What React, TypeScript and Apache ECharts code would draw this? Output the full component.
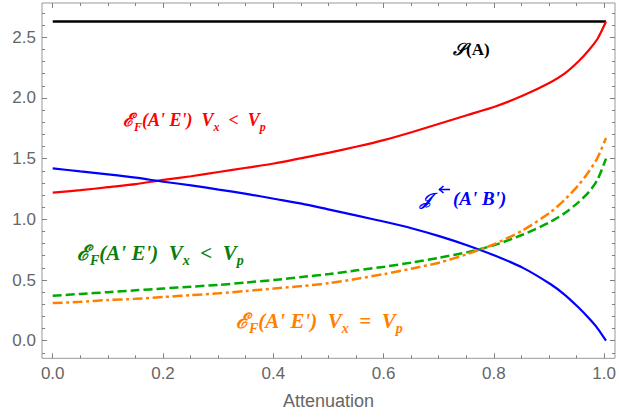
import React, { useEffect, useRef } from "react";
import * as echarts from "echarts";

// ---- data ----
const attenuation = [0, 0.05, 0.1, 0.15, 0.2, 0.25, 0.3, 0.35, 0.4, 0.45, 0.5, 0.55, 0.6, 0.65, 0.7, 0.75, 0.8, 0.85, 0.9, 0.925, 0.95, 0.97, 0.985, 1.0];
const entropyX = [0, 1];
const entropyA = [2.63, 2.63];
const efRed = [1.22, 1.24, 1.265, 1.29, 1.325, 1.355, 1.39, 1.425, 1.46, 1.505, 1.55, 1.6, 1.655, 1.72, 1.79, 1.86, 1.93, 2.02, 2.13, 2.2, 2.3, 2.4, 2.49, 2.63];
const coherentBlue = [1.42, 1.395, 1.37, 1.343, 1.31, 1.28, 1.245, 1.21, 1.17, 1.13, 1.08, 1.03, 0.98, 0.925, 0.86, 0.785, 0.7, 0.6, 0.465, 0.38, 0.275, 0.18, 0.1, 0.0];
const efGreen = [0.37, 0.385, 0.4, 0.415, 0.43, 0.445, 0.46, 0.48, 0.5, 0.525, 0.55, 0.58, 0.61, 0.645, 0.685, 0.73, 0.79, 0.875, 0.98, 1.05, 1.14, 1.23, 1.33, 1.5];
const efOrange = [0.31, 0.32, 0.335, 0.345, 0.36, 0.375, 0.39, 0.41, 0.43, 0.45, 0.475, 0.51, 0.55, 0.595, 0.645, 0.715, 0.8, 0.91, 1.06, 1.16, 1.28, 1.4, 1.51, 1.67];

const xMajorInterval = 0.2;
const yMajorInterval = 0.5;
const yMinorInterval = 0.1;

// ---- layout (pixels) ----
const W = 619, H = 418;
const frameL = 42, frameR = 615, frameT = 3, frameB = 358.3;
const dataL = 52.7, dataR = 606, dataT = 37.3, dataB = 340.7; // x:0..1, y:0..2.5
const pxPerY = (dataB - dataT) / 2.5;

const frameColor = "#999999";
const tickColor = "#808080";
const labelColor = "#666666";

const zip = (xs: number[], ys: number[]) => xs.map((x, i) => [x, ys[i]]);

function mathRich(color: string, size: number) {
  const base = {
    fontFamily: "'Liberation Serif','DejaVu Serif',serif",
    fontStyle: "italic",
    fontWeight: "bold",
    fill: color,
    color: color,
  };
  const sub = Math.round(size * 0.66);
  return {
    n: { ...base, fontSize: size, lineHeight: size + 8, verticalAlign: "middle" },
    u: { ...base, fontStyle: "normal", fontSize: size, lineHeight: size + 8, verticalAlign: "middle" },
    s: { ...base, fontSize: sub, lineHeight: sub, verticalAlign: "bottom" },
  };
}

function mathText(x: number, y: number, text: string, color: string, size: number) {
  return {
    type: "text",
    x,
    y,
    z: 100,
    style: {
      text,
      rich: mathRich(color, size),
      align: "left",
      verticalAlign: "middle",
    },
  };
}

const tickStyle = { color: tickColor, width: 1 };
const hidden = { axisLine: { show: false }, splitLine: { show: false }, axisLabel: { show: false } };

export default function App() {
  const ref = useRef<HTMLDivElement>(null);
  useEffect(() => {
    if (!ref.current) return;
    const chart = echarts.init(ref.current, null, { renderer: "svg" });
    const tickFont = { fontFamily: "'Liberation Sans', Arial, sans-serif", fontSize: 17, color: labelColor };
    const option: any = {
      animation: false,
      backgroundColor: "#ffffff",
      grid: [
        // 0: data grid (x 0..1, y 0..2.5)
        { left: dataL, right: W - dataR, top: dataT, bottom: H - dataB, show: false },
        // 1: x ticks grid (x 0..1, spans frame height)
        { left: dataL, right: W - dataR, top: frameT, bottom: H - frameB, show: false },
        // 2: y major ticks grid (y 0..2.5, spans frame width)
        { left: frameL, right: W - frameR, top: dataT, bottom: H - dataB, show: false },
        // 3: y minor ticks grid (y -0.1..2.7, spans frame width)
        {
          left: frameL,
          right: W - frameR,
          top: dataB - 2.7 * pxPerY,
          bottom: H - (dataB + 0.1 * pxPerY),
          show: false,
        },
        // 4: frame
        {
          left: frameL,
          right: W - frameR,
          top: frameT,
          bottom: H - frameB,
          show: true,
          borderColor: frameColor,
          borderWidth: 1,
          backgroundColor: "transparent",
        },
      ],
      xAxis: [
        { type: "value", gridIndex: 0, min: 0, max: 1, show: false },
        {
          type: "value",
          gridIndex: 1,
          position: "bottom",
          min: 0,
          max: 1,
          interval: xMajorInterval,
          axisLine: { show: false },
          splitLine: { show: false },
          axisTick: { show: true, inside: true, length: 5, lineStyle: tickStyle },
          minorTick: { show: true, splitNumber: 4, length: 3, lineStyle: tickStyle },
          axisLabel: { ...tickFont, margin: 7, formatter: (v: number) => v.toFixed(1) },
          name: "Attenuation",
          nameLocation: "middle",
          nameGap: 34,
          nameTextStyle: { fontFamily: "'Liberation Sans', Arial, sans-serif", fontSize: 18, color: labelColor },
        },
        {
          type: "value",
          gridIndex: 1,
          position: "top",
          min: 0,
          max: 1,
          interval: xMajorInterval,
          ...hidden,
          axisTick: { show: true, inside: true, length: 5, lineStyle: tickStyle },
          minorTick: { show: true, splitNumber: 4, length: 3, lineStyle: tickStyle },
        },
        { type: "value", gridIndex: 2, min: 0, max: 1, show: false },
        { type: "value", gridIndex: 3, min: 0, max: 1, show: false },
        { type: "value", gridIndex: 4, min: 0, max: 1, show: false },
      ],
      yAxis: [
        { type: "value", gridIndex: 0, min: 0, max: 2.5, show: false },
        { type: "value", gridIndex: 1, min: 0, max: 1, show: false },
        {
          type: "value",
          gridIndex: 2,
          position: "left",
          min: 0,
          max: 2.5,
          interval: yMajorInterval,
          axisLine: { show: false },
          splitLine: { show: false },
          axisTick: { show: true, inside: true, length: 5, lineStyle: tickStyle },
          axisLabel: { ...tickFont, margin: 6, formatter: (v: number) => v.toFixed(1) },
        },
        {
          type: "value",
          gridIndex: 2,
          position: "right",
          min: 0,
          max: 2.5,
          interval: yMajorInterval,
          ...hidden,
          axisTick: { show: true, inside: true, length: 5, lineStyle: tickStyle },
        },
        {
          type: "value",
          gridIndex: 3,
          position: "left",
          min: -0.1,
          max: 2.7,
          interval: yMinorInterval,
          ...hidden,
          axisTick: { show: true, inside: true, length: 3, lineStyle: tickStyle },
        },
        {
          type: "value",
          gridIndex: 3,
          position: "right",
          min: -0.1,
          max: 2.7,
          interval: yMinorInterval,
          ...hidden,
          axisTick: { show: true, inside: true, length: 3, lineStyle: tickStyle },
        },
        { type: "value", gridIndex: 4, min: 0, max: 1, show: false },
      ],
      series: [
        {
          name: "S(A)",
          type: "line",
          xAxisIndex: 0,
          yAxisIndex: 0,
          clip: false,
          showSymbol: false,
          data: zip(entropyX, entropyA),
          lineStyle: { color: "#000000", width: 2.5 },
          z: 3,
        },
        {
          name: "EF red",
          type: "line",
          xAxisIndex: 0,
          yAxisIndex: 0,
          clip: false,
          showSymbol: false,
          smooth: 0.25,
          data: zip(attenuation, efRed),
          lineStyle: { color: "#ff0000", width: 2.2 },
          z: 4,
        },
        {
          name: "J blue",
          type: "line",
          xAxisIndex: 0,
          yAxisIndex: 0,
          clip: false,
          showSymbol: false,
          smooth: 0.25,
          data: zip(attenuation, coherentBlue),
          lineStyle: { color: "#0000ff", width: 2.2 },
          z: 4,
        },
        {
          name: "EF green",
          type: "line",
          xAxisIndex: 0,
          yAxisIndex: 0,
          clip: false,
          showSymbol: false,
          smooth: 0.25,
          data: zip(attenuation, efGreen),
          lineStyle: { color: "#00aa00", width: 2.5, type: [9, 4], cap: "butt" },
          z: 5,
        },
        {
          name: "EF orange",
          type: "line",
          xAxisIndex: 0,
          yAxisIndex: 0,
          clip: false,
          showSymbol: false,
          smooth: 0.25,
          data: zip(attenuation, efOrange),
          lineStyle: { color: "#ff8000", width: 2.5, type: [10, 3.5, 3, 3.5], cap: "butt" },
          z: 5,
        },
      ],
      graphic: [
        mathText(453, 49, "{n|\u{1D4AE}}{u|(A)}", "#000000", 17),
        mathText(123, 120, "{n|\u2130}{s|F}{n|(A' E')  V}{s|x}{n|  <  V}{s|p}", "#ff0000", 18),
        mathText(420, 199, "{n|\u{1D4A5}}", "#0000ff", 17),
        // superscript left arrow drawn as strokes
        {
          type: "line",
          z: 100,
          shape: { x1: 439, y1: 189.5, x2: 450, y2: 189.5 },
          style: { stroke: "#0000ff", lineWidth: 1.6 },
        },
        {
          type: "polyline",
          z: 100,
          shape: { points: [[443.5, 186], [439.5, 189.5], [443.5, 193]] },
          style: { stroke: "#0000ff", lineWidth: 1.6, fill: "none" },
        },
        mathText(453, 198, "{n|(A' B')}", "#0000ff", 19),
        mathText(77, 253, "{n|\u2130}{s|F}{n|(A' E')  V}{s|x}{n|  <  V}{s|p}", "#0b7d0b", 21),
        mathText(236, 321, "{n|\u2130}{s|F}{n|(A' E')  V}{s|x}{n|  =  V}{s|p}", "#ff8000", 21),
      ],
    };
    chart.setOption(option);
    return () => chart.dispose();
  }, []);
  return <div ref={ref} style={{ position: "absolute", left: 0, top: 0, width: W, height: H }} />;
}
